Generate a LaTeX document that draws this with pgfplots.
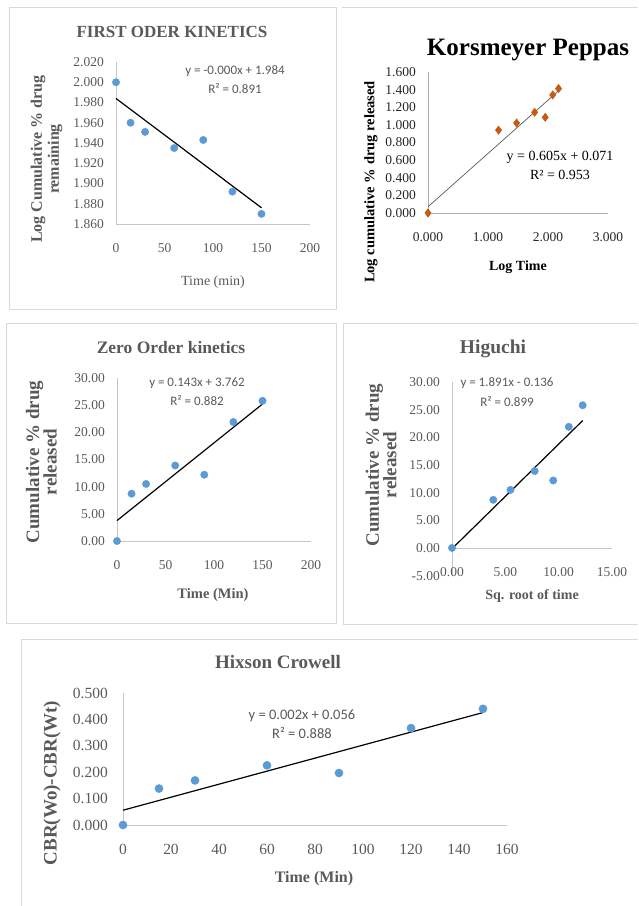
\documentclass[border=0pt]{standalone}
\usepackage{pgfplots}
\pgfplotsset{compat=1.18}
\usepackage{fontspec}
\setmainfont{Liberation Serif}
\newfontfamily\calib{Carlito}
\definecolor{txt}{HTML}{595959}
\definecolor{ptblue}{HTML}{5B9BD5}
\definecolor{ptorange}{RGB}{197,90,17}
\definecolor{frame}{HTML}{D9D9D9}

\pgfplotsset{
  excel/.style={
    scale only axis,
    axis x line*=bottom, axis y line*=left,
    axis line style={-, draw=gray!45, line width=0.9pt},
    major tick length=0pt,
    tick label style={font=\fontsize{13.5}{15}\selectfont, text=txt, inner sep=0pt},
    xticklabel style={anchor=center, yshift=-24pt},
    yticklabel style={anchor=east, xshift=-12pt},
    /pgf/number format/assume math mode=true,
    scaled ticks=false,
    clip=false,
  },
  pts/.style={only marks, mark=*, mark size=3.7pt, mark options={fill=ptblue, draw=ptblue}},
  fit/.style={black, line width=1.2pt, no marks},
  prec/.style={/pgf/number format/fixed, /pgf/number format/fixed zerofill, /pgf/number format/precision=#1},
}

\begin{document}
\begin{tikzpicture}
\path[use as bounding box] (0,0) rectangle (638pt,-906pt);

% first order
\begin{axis}[excel, at={(116pt,-224pt)}, anchor=south west, width=194pt, height=162pt,
  xmin=0, xmax=200, ymin=1.86, ymax=2.02,
  xtick={0,50,100,150,200},
  ytick={1.86,1.88,1.90,1.92,1.94,1.96,1.98,2.00,2.02},
  yticklabel style={prec=3}]
\addplot[pts] coordinates {(0,2.000) (15,1.960) (30,1.951) (60,1.935) (90,1.943) (120,1.892) (150,1.870)};
\addplot[fit] coordinates {(0,1.984) (150,1.876)};
\end{axis}

% Korsmeyer Peppas
\begin{axis}[excel, at={(428pt,-213pt)}, anchor=south west, width=180pt, height=141pt,
  axis line style={-, draw=gray!65, line width=0.9pt},
  tick label style={text=black!85},
  xmin=0, xmax=3, ymin=0, ymax=1.6,
  xtick={0,1,2,3},
  ytick={0,0.2,0.4,0.6,0.8,1.0,1.2,1.4,1.6},
  xticklabel style={prec=3}, yticklabel style={prec=3}]
\addplot[only marks, mark=diamond*, mark size=4.2pt, mark options={fill=ptorange, draw=ptorange}]
  coordinates {(0,0) (1.176,0.940) (1.477,1.021) (1.778,1.143) (1.954,1.086) (2.079,1.340) (2.176,1.412)};
\addplot[gray!70!black, line width=0.7pt, no marks] coordinates {(0,0.071) (2.176,1.387)};
\end{axis}

% zero order
\begin{axis}[excel, at={(117pt,-541pt)}, anchor=south west, width=194pt, height=163pt,
  xmin=0, xmax=200, ymin=0, ymax=30,
  xtick={0,50,100,150,200},
  ytick={0,5,10,15,20,25,30},
  yticklabel style={prec=2}]
\addplot[pts] coordinates {(0,0) (15,8.7) (30,10.5) (60,13.9) (90,12.2) (120,21.9) (150,25.8)};
\addplot[fit] coordinates {(0,3.762) (150,25.21)};
\end{axis}

% Higuchi
\begin{axis}[excel, axis x line*=middle, hide obscured x ticks=false, hide obscured y ticks=false,
  at={(452pt,-575.6pt)}, anchor=south west, width=160pt, height=193.6pt,
  xmin=0, xmax=15, ymin=-5, ymax=30,
  xtick={0,5,10,15},
  ytick={-5,0,5,10,15,20,25,30},
  xticklabel style={prec=2}, yticklabel style={prec=2}]
\addplot[pts] coordinates {(0,0) (3.87,8.7) (5.48,10.5) (7.75,13.9) (9.49,12.2) (10.95,21.9) (12.25,25.8)};
\addplot[fit] coordinates {(0,-0.136) (12.25,23.03)};
\end{axis}

% Hixson Crowell
\begin{axis}[excel, at={(123pt,-825pt)}, anchor=south west, width=384pt, height=132pt,
  tick label style={font=\fontsize{15.5}{17}\selectfont},
  xmin=0, xmax=160, ymin=0, ymax=0.5,
  xtick={0,20,40,60,80,100,120,140,160},
  ytick={0,0.1,0.2,0.3,0.4,0.5},
  yticklabel style={xshift=-3pt, prec=3}]
\addplot[pts, mark size=4.1pt] coordinates {(0,0) (15,0.138) (30,0.169) (60,0.226) (90,0.197) (120,0.367) (150,0.440)};
\addplot[fit] coordinates {(0,0.056) (150,0.426)};
\end{axis}

\begin{scope}[x=1pt, y=-1pt]
% panel frames
\draw[frame, line width=1pt] (9,7) rectangle (336,309);
\draw[frame, line width=1pt] (342,7) -- (638,7);
\draw[frame, line width=1pt] (6,323) rectangle (336,623);
\draw[frame, line width=1pt] (638,323) -- (343,323) -- (343,624) -- (638,624);
\draw[frame, line width=1pt] (638,639) -- (21,639) -- (21,906);

% titles
\node[font=\bfseries\fontsize{17}{19}\selectfont, text=txt] at (172,32) {FIRST ODER KINETICS};
\node[font=\bfseries\fontsize{25}{28}\selectfont, text=black] at (528,50) {Korsmeyer Peppas};
\node[font=\bfseries\fontsize{17.5}{19}\selectfont, text=txt] at (171,348) {Zero Order kinetics};
\node[font=\bfseries\fontsize{19.5}{21}\selectfont, text=txt] at (493,349) {Higuchi};
\node[font=\bfseries\fontsize{19}{21}\selectfont, text=txt] at (278,662) {Hixson Crowell};

% trend line equations
\node[font=\calib\fontsize{13}{15}\selectfont, text=txt] at (235,71) {y = -0.000x + 1.984};
\node[font=\calib\fontsize{13}{15}\selectfont, text=txt] at (235,89) {R² = 0.891};
\node[font=\fontsize{14}{16}\selectfont, text=black] at (560,157) {y = 0.605x + 0.071};
\node[font=\fontsize{14}{16}\selectfont, text=black] at (560,175) {R² = 0.953};
\node[font=\calib\fontsize{13}{15}\selectfont, text=txt] at (197,383) {y = 0.143x + 3.762};
\node[font=\calib\fontsize{13}{15}\selectfont, text=txt] at (197,401) {R² = 0.882};
\node[font=\calib\fontsize{13}{15}\selectfont, text=txt] at (507,383) {y = 1.891x - 0.136};
\node[font=\calib\fontsize{13}{15}\selectfont, text=txt] at (507,402) {R² = 0.899};
\node[font=\calib\fontsize{14.5}{16}\selectfont, text=txt] at (302,716) {y = 0.002x + 0.056};
\node[font=\calib\fontsize{14.5}{16}\selectfont, text=txt] at (302,733) {R² = 0.888};

% axis titles
\node[rotate=90, align=center, font=\bfseries\fontsize{16}{17}\selectfont, text=txt] at (46.5,159) {Log Cumulative \% drug\\remaining};
\node[font=\fontsize{14}{16}\selectfont, text=txt] at (213,282) {Time (min)};
\node[rotate=90, font=\bfseries\fontsize{14.5}{16}\selectfont, text=black] at (371,182) {Log cumulative \% drug released};
\node[font=\bfseries\fontsize{14}{16}\selectfont, text=black] at (518,267) {Log Time};
\node[rotate=90, align=center, font=\bfseries\fontsize{19}{17.5}\selectfont, text=txt] at (41.5,462) {Cumulative \% drug\\released};
\node[font=\bfseries\fontsize{14.5}{16}\selectfont, text=txt] at (213,595) {Time (Min)};
\node[rotate=90, align=center, font=\bfseries\fontsize{19}{17.5}\selectfont, text=txt] at (381,465) {Cumulative \%  drug\\released};
\node[font=\bfseries\fontsize{14}{16}\selectfont, text=txt] at (532,596) {Sq. root of time};
\node[rotate=90, font=\bfseries\fontsize{19}{21}\selectfont, text=txt] at (52,783) {CBR(Wo)-CBR(Wt)};
\node[font=\bfseries\fontsize{16}{18}\selectfont, text=txt] at (314,879) {Time (Min)};
\end{scope}
\end{tikzpicture}
\end{document}
